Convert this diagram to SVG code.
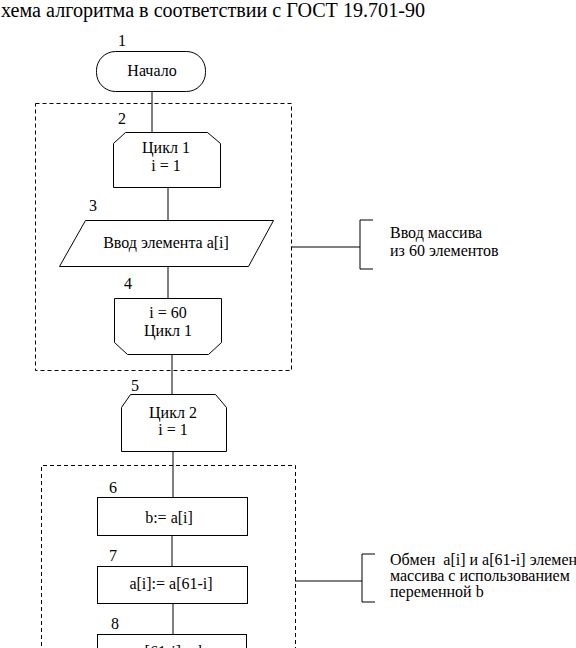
<svg xmlns="http://www.w3.org/2000/svg" width="576" height="648" viewBox="0 0 576 648">
<style>
text{font-family:"Liberation Serif","Times New Roman","DejaVu Serif",serif;fill:#000}
.t{font-size:16px}
.c{text-anchor:middle}
.n{font-size:16px}
.s{fill:#fff;stroke:#000;stroke-width:1}
.l{stroke:#000;stroke-width:1;fill:none}
.d{stroke:#000;stroke-width:1;fill:none;stroke-dasharray:4 3}
</style>
<rect width="576" height="648" fill="#fff"/>
<text x="1" y="17" font-size="20" textLength="424" lengthAdjust="spacingAndGlyphs">хема алгоритма в соответствии с ГОСТ 19.701-90</text>
<g id="connectors">
<path class="l" d="M152 91V133 M168 187V220 M168 266V298 M172 354V394 M173 451V497 M172 535V566 M173 603V634"/>
<path class="l" d="M291 247H360 M373 220H360V269H373"/>
<path class="l" d="M295 581H362 M375 554H362V602H375"/>
</g>
<g id="loop1"><rect class="d" x="35.5" y="103.5" width="256" height="267"/></g>
<g id="loop2"><path class="d" d="M41.5 660V465.5H295.5V660"/></g>
<g id="node1">
<text class="n" x="118" y="46">1</text>
<rect class="s" x="96.5" y="51.5" width="109" height="40" rx="19"/>
<text class="t c" x="152" y="76">Начало</text>
</g>
<g id="node2">
<text class="n" x="118" y="124">2</text>
<path class="s" d="M125.5 132.5H207.5L220.5 143.5V187.5H113.5V143.5Z"/>
<text class="t c" x="166" y="153">Цикл 1</text>
<text class="t c" x="166" y="171">i = 1</text>
</g>
<g id="node3">
<text class="n" x="89" y="211">3</text>
<path class="s" d="M85.5 220.5H273.5L248.5 266.5H59.5Z"/>
<text class="t c" x="166" y="248">Ввод элемента a[i]</text>
</g>
<g id="node4">
<text class="n" x="124" y="289">4</text>
<path class="s" d="M114.5 298.5H221.5V342.5L208.5 354.5H127.5L114.5 342.5Z"/>
<text class="t c" x="168" y="318">i = 60</text>
<text class="t c" x="168" y="336">Цикл 1</text>
</g>
<g id="node5">
<text class="n" x="131" y="391">5</text>
<path class="s" d="M130.5 394.5H215.5L226.5 407.5V451.5H121.5V407.5Z"/>
<text class="t c" x="173" y="418">Цикл 2</text>
<text class="t c" x="173" y="435">i = 1</text>
</g>
<g id="node6">
<text class="n" x="109" y="493">6</text>
<rect class="s" x="97.5" y="497.5" width="150" height="38"/>
<text class="t c" x="169" y="523">b:= a[i]</text>
</g>
<g id="node7">
<text class="n" x="109" y="561">7</text>
<rect class="s" x="97.5" y="566.5" width="150" height="37"/>
<text class="t c" x="171" y="589">a[i]:= a[61-i]</text>
</g>
<g id="node8">
<text class="n" x="111" y="629">8</text>
<rect class="s" x="97.5" y="634.5" width="149" height="30"/>
<text class="t c" x="172" y="657">a[61-i]:= b</text>
</g>
<g id="note1">
<text class="t" x="390" y="238">Ввод массива</text>
<text class="t" x="390" y="256">из 60 элементов</text>
</g>
<g id="note2">
<text class="t" x="390" y="565" xml:space="preserve">Обмен  a[i] и a[61-i] элемен</text>
<text class="t" x="390" y="581">массива с использованием</text>
<text class="t" x="390" y="597">переменной b</text>
</g>
</svg>
